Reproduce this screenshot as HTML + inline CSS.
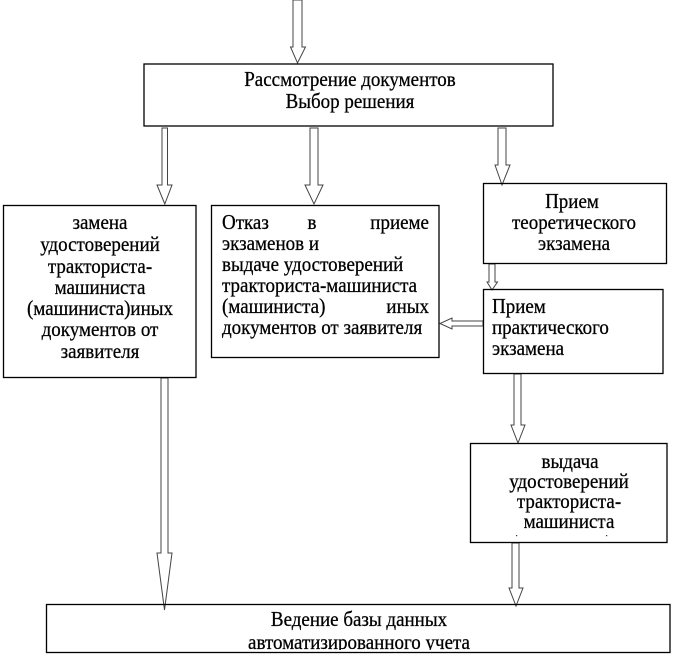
<!DOCTYPE html>
<html>
<head>
<meta charset="utf-8">
<style>
  html, body { margin: 0; padding: 0; background: #fff; }
  body { width: 676px; height: 657px; overflow: hidden; }
  svg { display: block; }
  text { font-family: "Liberation Serif", "Noto Serif CJK SC", serif; font-size: 19px; fill: #000; stroke: #000; stroke-width: 0.25px;
         transform-box: fill-box; transform-origin: 50% 80%; transform: scaleY(1.12); }
</style>
</head>
<body>
<svg width="676" height="657" viewBox="0 0 676 657" xmlns="http://www.w3.org/2000/svg">
  <defs>
    <clipPath id="bottomclip"><rect x="46" y="604" width="624" height="46"/></clipPath>
  </defs>

  <!-- Arrows (hollow block arrows) -->
  <g fill="#fff" stroke="#444" stroke-width="1">
    <polygon points="293,0 302,0 302,47 305.5,47 297.5,63 290.5,47 293,47"/>
    <polygon points="162,128 167.5,128 167.5,185 172,185 164.8,204 157,185 162,185"/>
    <polygon points="310,128 318,128 318,185 323,185 314,204 305,185 310,185"/>
    <polygon points="498,128 506,128 506,165 510,165 502,185 495,165 498,165"/>
    <polygon points="489,264 495,264 495,282 497.5,282 492,290 487,282 489,282"/>
    <polygon points="483,321 452,321 452,318 440,323.5 452,329 452,326 483,326"/>
    <polygon points="514,374 521,374 521,425 525,425 518,443 511,425 514,425"/>
    <polygon points="161,378 168,378 168,553 172,553 164.5,610 157,553 161,553"/>
    <polygon points="512,543 519,543 519,588 523,588 516,606 509,588 512,588"/>
  </g>

  <!-- Boxes -->
  <g fill="none" stroke="#000" stroke-width="1.3">
    <rect x="144" y="64" width="409" height="62"/>
    <rect x="3.5" y="205.5" width="192.5" height="172"/>
    <rect x="211.5" y="205.5" width="227.5" height="152"/>
    <rect x="483.5" y="183.5" width="183" height="80"/>
    <rect x="483.5" y="289.5" width="179.5" height="84"/>
    <rect x="470.5" y="443.5" width="196.5" height="99"/>
    <rect x="46.5" y="604.5" width="623.5" height="48"/>
  </g>

  <rect x="516" y="535" width="1.2" height="1.2" fill="#333"/>
  <rect x="606" y="535" width="1.2" height="1.2" fill="#333"/>

  <!-- Top box text -->
  <text x="350" y="86" text-anchor="middle">Рассмотрение документов</text>
  <text x="350" y="108" text-anchor="middle">Выбор решения</text>

  <!-- Left box text -->
  <g text-anchor="middle">
    <text x="100" y="229">замена</text>
    <text x="100" y="251">удостоверений</text>
    <text x="100" y="273">тракториста-</text>
    <text x="100" y="294">машиниста</text>
    <text x="100" y="315">(машиниста)иных</text>
    <text x="100" y="336">документов от</text>
    <text x="100" y="358">заявителя</text>
  </g>

  <!-- Middle box text (justified) -->
  <text x="222" y="229">Отказ</text>
  <text x="312" y="229" text-anchor="middle">в</text>
  <text x="429" y="229" text-anchor="end">приеме</text>
  <text x="222" y="250">экзаменов и</text>
  <text x="222" y="271">выдаче удостоверений</text>
  <text x="222" y="292">тракториста-машиниста</text>
  <text x="222" y="313">(машиниста)</text>
  <text x="429" y="313" text-anchor="end">иных</text>
  <text x="222" y="334">документов от заявителя</text>

  <!-- Theoretical exam box -->
  <g text-anchor="middle">
    <text x="572" y="208">Прием</text>
    <text x="574" y="229">теоретического</text>
    <text x="574" y="250">экзамена</text>
  </g>

  <!-- Practical exam box -->
  <text x="492" y="313">Прием</text>
  <text x="492" y="334">практического</text>
  <text x="492" y="355">экзамена</text>

  <!-- Выдача box -->
  <g text-anchor="middle">
    <text x="570" y="468">выдача</text>
    <text x="569" y="488">удостоверений</text>
    <text x="569" y="508">тракториста-</text>
    <text x="569" y="528">машиниста</text>
  </g>

  <!-- Bottom box -->
  <g clip-path="url(#bottomclip)" text-anchor="middle">
    <text x="359" y="626">Ведение базы данных</text>
    <text x="359" y="649">автоматизированного учета</text>
  </g>
</svg>
</body>
</html>
